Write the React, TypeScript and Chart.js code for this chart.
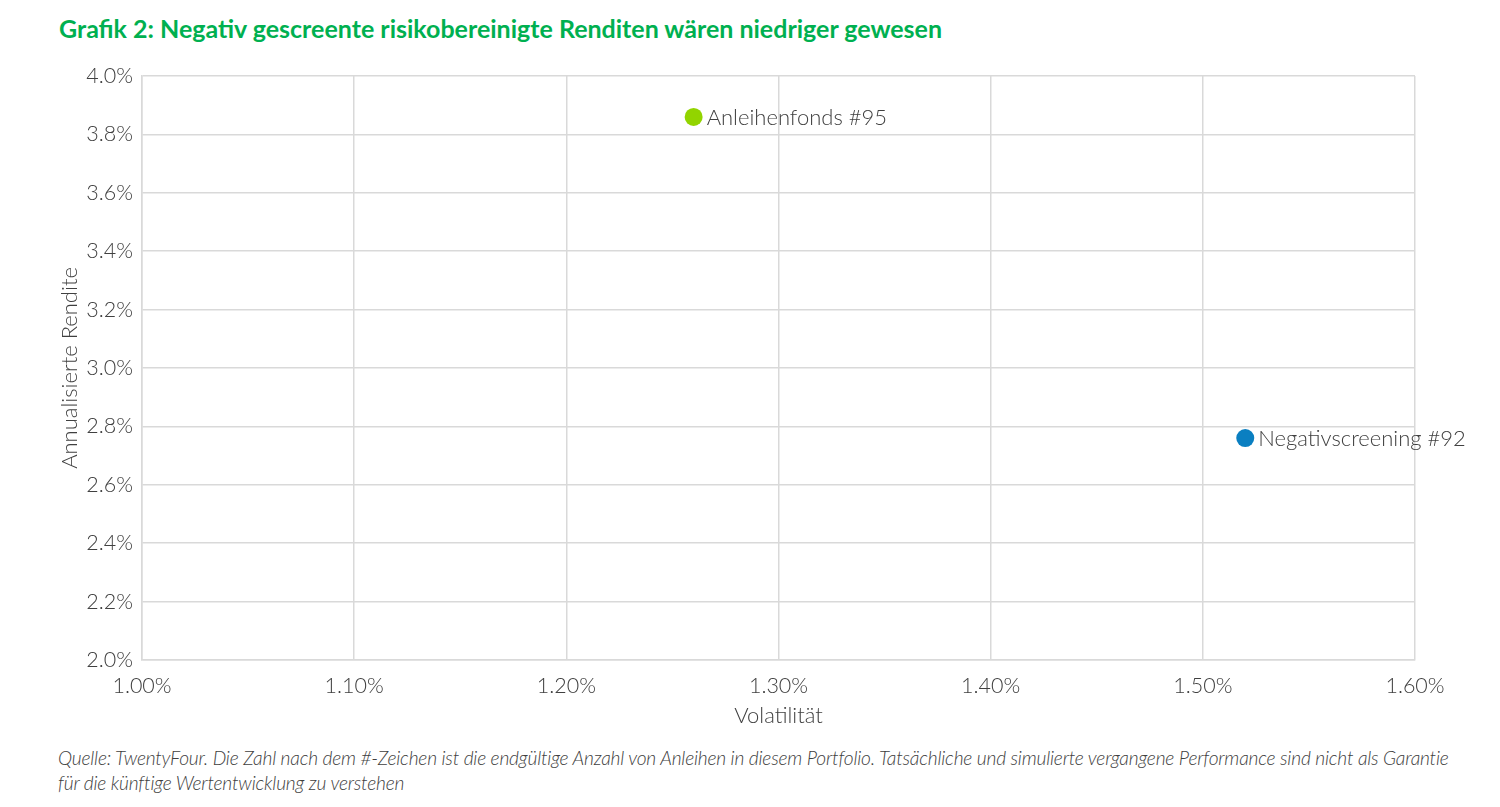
import { useEffect, useRef } from 'react';
import { Chart, registerables } from 'chart.js';

Chart.register(...registerables);

// Volatilität (%) / annualisierte Rendite (%)
const fundNames = ['Anleihenfonds #95', 'Negativscreening #92'];
const volatility = [1.26, 1.52];
const annualReturn = [3.86, 2.76];
const pointColors = ['#92d400', '#0a7fc1'];

const xMin = 1.0;
const xMax = 1.6;
const yMin = 2.0;
const yMax = 4.0;

const TEXT = '#404040';
const GRID = '#d9d9d9';
const FONT = 'Lato, "Noto Sans", sans-serif';

// labels next to each point
const pointLabels = {
  id: 'pointLabels',
  afterDatasetsDraw(chart: any) {
    const ctx = chart.ctx;
    ctx.save();
    ctx.font = `300 22px ${FONT}`;
    ctx.fillStyle = TEXT;
    ctx.textAlign = 'left';
    ctx.textBaseline = 'middle';
    chart.data.datasets.forEach((ds: any, i: number) => {
      const meta = chart.getDatasetMeta(i);
      meta.data.forEach((pt: any) => {
        ctx.fillText(ds.label, pt.x + 13, pt.y + 1);
      });
    });
    ctx.restore();
  },
};

export default function App() {
  const canvasRef = useRef<HTMLCanvasElement | null>(null);
  const chartRef = useRef<Chart | null>(null);

  useEffect(() => {
    document.body.style.margin = '0';
    if (!canvasRef.current) return;
    if (chartRef.current) {
      chartRef.current.destroy();
      chartRef.current = null;
    }

    const datasets = fundNames.map((name, i) => ({
      label: name,
      data: [{ x: volatility[i], y: annualReturn[i] }],
      backgroundColor: pointColors[i],
      borderColor: pointColors[i],
      pointRadius: 9,
      pointBorderWidth: 0,
    }));

    const tickFont = { family: FONT, size: 21.5, weight: '300' };
    const titleFont = { family: FONT, size: 22, weight: '300' };

    const chart = new Chart(canvasRef.current, {
      type: 'scatter',
      data: { datasets },
      options: {
        animation: false,
        responsive: false,
        maintainAspectRatio: false,
        layout: { padding: { left: 0, right: 85, top: 26, bottom: 0 } },
        plugins: {
          legend: { display: false },
          tooltip: { enabled: false },
        },
        scales: {
          x: {
            type: 'linear',
            min: xMin,
            max: xMax,
            afterFit: (scale: any) => {
              scale.height = 80;
            },
            ticks: {
              stepSize: 0.1,
              padding: 13,
              color: TEXT,
              font: tickFont,
              callback: (v: any) => Number(v).toFixed(2) + '%',
            },
            grid: { color: GRID, lineWidth: 1.5, drawTicks: false },
            border: { color: GRID, width: 1.5 },
            title: {
              display: true,
              text: 'Volatilität',
              color: TEXT,
              font: titleFont,
              padding: { top: 0, bottom: 11 },
            },
          },
          y: {
            type: 'linear',
            min: yMin,
            max: yMax,
            afterFit: (scale: any) => {
              scale.width = 142;
            },
            ticks: {
              stepSize: 0.2,
              padding: 9,
              color: TEXT,
              font: tickFont,
              callback: (v: any) => Number(v).toFixed(1) + '%',
            },
            grid: { color: GRID, lineWidth: 1.5, drawTicks: false },
            border: { color: GRID, width: 1.5 },
            title: {
              display: true,
              text: 'Annualisierte Rendite',
              color: TEXT,
              font: titleFont,
              padding: { top: 57, bottom: 0 },
            },
          },
        },
      },
      plugins: [pointLabels],
    } as any);
    chartRef.current = chart;

    return () => {
      if (chartRef.current) {
        chartRef.current.destroy();
        chartRef.current = null;
      }
    };
  }, []);

  return (
    <div style={{ position: 'relative', width: 1500, height: 807, background: '#fff', fontFamily: FONT }}>
      <div
        style={{
          position: 'absolute',
          left: 59,
          top: 13,
          fontSize: 25,
          lineHeight: '30px',
          fontWeight: 700,
          color: '#00b050',
          whiteSpace: 'nowrap',
        }}
      >
        Grafik 2: Negativ gescreente risikobereinigte Renditen wären niedriger gewesen
      </div>
      <canvas
        ref={canvasRef}
        width={1500}
        height={690}
        style={{ position: 'absolute', left: 0, top: 50, width: 1500, height: 690 }}
      />
      <div
        style={{
          position: 'absolute',
          left: 58,
          top: 745,
          fontSize: 19.2,
          lineHeight: '25px',
          fontStyle: 'italic',
          fontWeight: 300,
          color: TEXT,
          whiteSpace: 'nowrap',
          letterSpacing: '-0.2px',
        }}
      >
        Quelle: TwentyFour. Die Zahl nach dem #-Zeichen ist die endgültige Anzahl von Anleihen in diesem Portfolio.
        Tatsächliche und simulierte vergangene Performance sind nicht als Garantie
        <br />
        für die künftige Wertentwicklung zu verstehen
      </div>
    </div>
  );
}
